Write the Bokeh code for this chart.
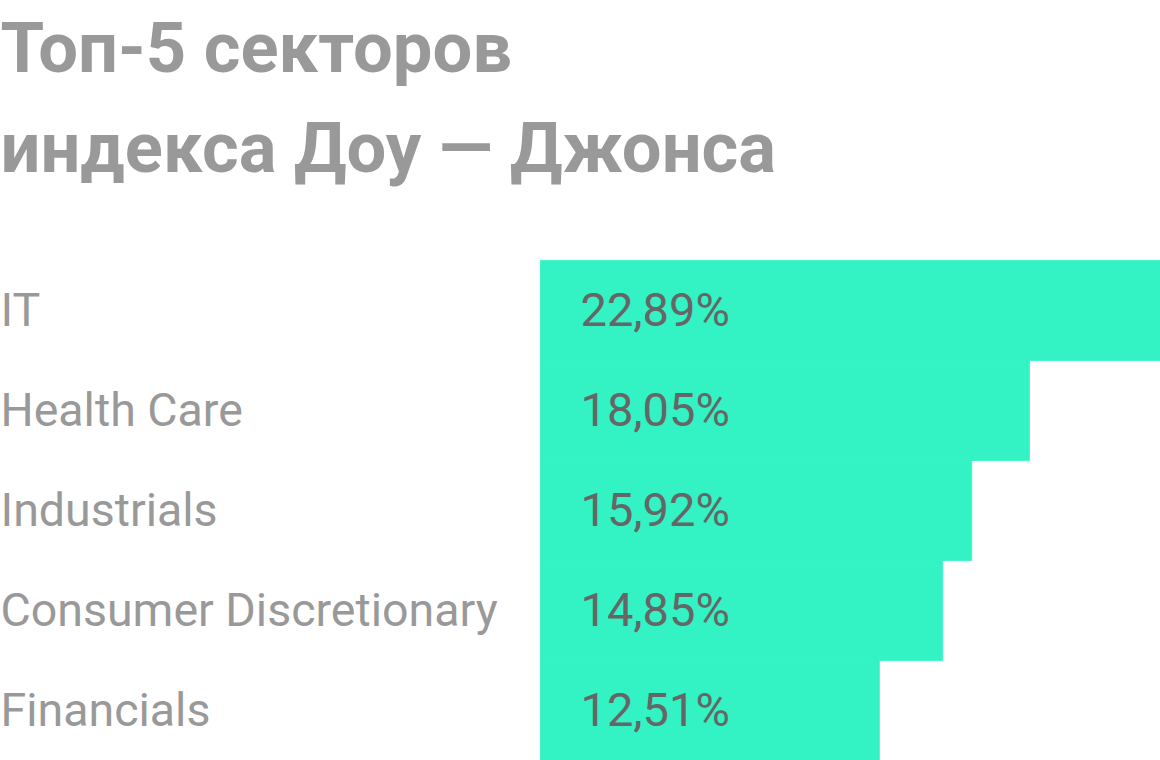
from bokeh.plotting import figure
from bokeh.models import Range1d, ColumnDataSource, Label
from bokeh.core.properties import value
from bokeh.embed import file_html
from bokeh.resources import INLINE

# ---- data ----
title_lines = ["Топ-5 секторов", "индекса Доу — Джонса"]
sectors = ["IT", "Health Care", "Industrials", "Consumer Discretionary", "Financials"]
weights = [22.89, 18.05, 15.92, 14.85, 12.51]
weight_labels = ["22,89%", "18,05%", "15,92%", "14,85%", "12,51%"]

# ---- layout ----
W, H = 1160, 760
bar_left_px = 540          # pixel where the zero of the bars sits
px_per = (W - bar_left_px) / max(weights)
x_start = -bar_left_px / px_per
x_end = max(weights)

row_px = 100.0
first_center_px = 310.0
y_top = (0 - first_center_px) / row_px
y_bottom = (H - first_center_px) / row_px

p = figure(width=W, height=H, output_backend="svg", toolbar_location=None,
           x_range=Range1d(x_start, x_end), y_range=Range1d(y_bottom, y_top),
           min_border=0, min_border_left=0, min_border_right=0,
           min_border_top=0, min_border_bottom=0)
p.axis.visible = False
p.grid.visible = False
p.outline_line_color = None
p.background_fill_color = "white"
p.border_fill_color = "white"

idx = list(range(len(sectors)))
src = ColumnDataSource(dict(
    y=idx,
    w=weights,
    name=sectors,
    lab=weight_labels,
    ty=[i - 0.01 for i in idx],
    x0=[x_start] * len(idx),
    xl=[0] * len(idx),
))

p.hbar(y="y", left=0, right="w", height=1.0, source=src,
       fill_color="#33F2C4", line_color="#33F2C4", line_width=0.8)

p.text(x="x0", y="ty", text="name", source=src,
       text_font=value("Roboto"), text_font_style="normal",
       text_font_size="46.5px", text_color="#999999",
       text_baseline="alphabetic", text_align="left", x_offset=0)

p.text(x="xl", y="ty", text="lab", source=src,
       text_font=value("Roboto"), text_font_size="47px",
       text_color="#666666", text_baseline="alphabetic",
       text_align="left", x_offset=40)

for k, line in enumerate(title_lines):
    p.add_layout(Label(x=0, y=H - 47.5 - 100 * k, x_units="screen", y_units="screen",
                       text=line, text_font="Roboto", text_font_style="bold",
                       text_font_size="70.5px", text_color="#999999",
                       text_baseline="alphabetic"))

open("out.html", "w").write(file_html(p, INLINE))
